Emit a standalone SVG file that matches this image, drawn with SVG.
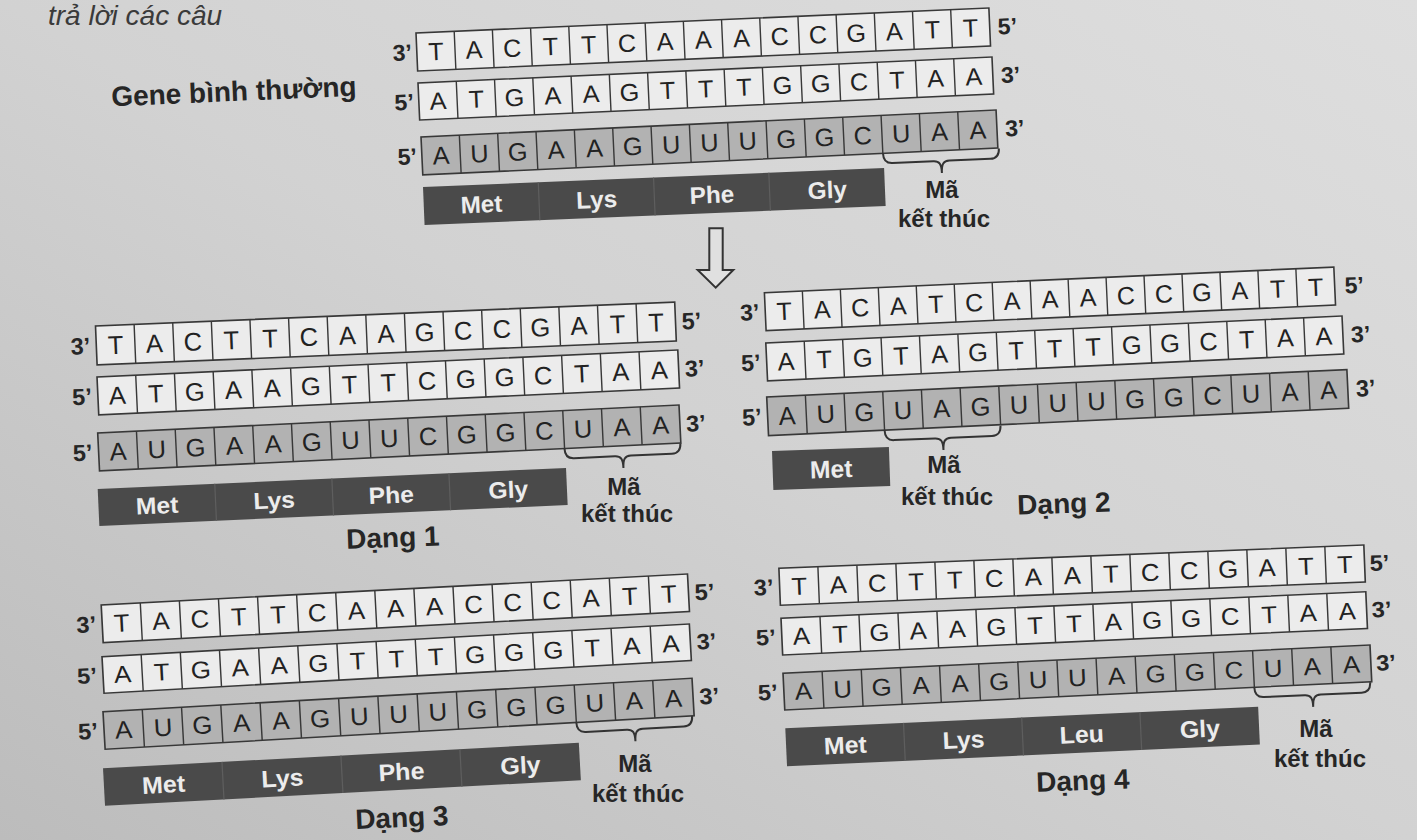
<svg xmlns="http://www.w3.org/2000/svg" xmlns:xlink="http://www.w3.org/1999/xlink" width="1417" height="840" viewBox="0 0 1417 840">
<defs>
<linearGradient id="bg" x1="1" y1="0" x2="0" y2="1">
<stop offset="0" stop-color="#dedede"/>
<stop offset="0.5" stop-color="#d2d2d2"/>
<stop offset="1" stop-color="#bcbcbc"/>
</linearGradient>
<style>
.dna{fill:#ececec;stroke:#383838;stroke-width:1.6}
.rna{fill:#b2b2b2;stroke:#383838;stroke-width:1.6}
.div{fill:none;stroke:#383838;stroke-width:1.4}
.nt{font-family:"Liberation Sans",Arial,sans-serif;font-size:25px;fill:#222222;text-anchor:middle}
.end{font-family:"Liberation Sans",Arial,sans-serif;font-size:23px;font-weight:bold;fill:#262626}
.bar{fill:#4a4a4a}
.sep{fill:none;stroke:#5e5e5e;stroke-width:1.2}
.aa{font-family:"Liberation Sans",Arial,sans-serif;font-size:24px;font-weight:bold;fill:#ececec;text-anchor:middle}
.lbl{font-family:"Liberation Sans",Arial,sans-serif;font-size:24px;font-weight:bold;fill:#262626;text-anchor:middle}
.title{font-family:"Liberation Sans",Arial,sans-serif;font-size:28px;font-weight:bold;fill:#262626;text-anchor:middle}
.brace{fill:none;stroke:#333333;stroke-width:2}
.arrow{fill:#e0e0e0;stroke:#333333;stroke-width:2;stroke-linejoin:miter}
.page{font-family:"Liberation Sans",Arial,sans-serif;font-size:28px;font-style:italic;fill:#3a3a3a}
</style>
<path id="d15" class="div" d="M38,0V38M76,0V38M114,0V38M152,0V38M190,0V38M228,0V38M266,0V38M304,0V38M342,0V38M380,0V38M418,0V38M456,0V38M494,0V38M532,0V38"/>
<path id="sep4" class="sep" d="M114,0V38M228,0V38M342,0V38"/>
<path id="brace" class="brace" d="M0,0 C0,6 3,10 9,10 H50 C56,10 58,13 58,22 C58,13 60,10 66,10 H107 C113,10 116,6 116,0"/>
</defs>

<rect width="1417" height="840" fill="url(#bg)"/>
<text class="page" x="48" y="25">trả lời các câu</text>

<!-- Normal gene -->
<g id="gene-normal">
<text class="title" x="234" y="101" transform="rotate(-2.5 234 95)">Gene bình thường</text>
<g transform="translate(416,33) rotate(-2.5) scale(1.006,1)">
<rect class="dna" width="570" height="38"/><use xlink:href="#d15"/>
<text class="nt" x="19 57 95 133 171 209 247 285 323 361 399 437 475 513 551" y="28">TACTTCAAACCGATT</text>
<text class="end" x="-5" y="27" text-anchor="end">3’</text><text class="end" x="578" y="27">5’</text>
</g>
<g transform="translate(418,83) rotate(-2.59) scale(1.008,0.975)">
<rect class="dna" width="570" height="38"/><use xlink:href="#d15"/>
<text class="nt" x="19 57 95 133 171 209 247 285 323 361 399 437 475 513 551" y="28">ATGAAGTTTGGCTAA</text>
<text class="end" x="-5" y="27" text-anchor="end">5’</text><text class="end" x="578" y="27">3’</text>
</g>
<g transform="translate(421,137) rotate(-2.69) scale(1.010,1)">
<rect class="rna" width="570" height="38"/><use xlink:href="#d15"/>
<text class="nt" x="19 57 95 133 171 209 247 285 323 361 399 437 475 513 551" y="28">AUGAAGUUUGGCUAA</text>
<text class="end" x="-5" y="27" text-anchor="end">5’</text><text class="end" x="578" y="27">3’</text>
</g>
<g transform="translate(423,187) rotate(-2.36) scale(1.012,1)">
<rect class="bar" width="456" height="38"/><use xlink:href="#sep4"/>
<text class="aa" x="57" y="28">Met</text><text class="aa" x="171" y="28">Lys</text><text class="aa" x="285" y="28">Phe</text><text class="aa" x="399" y="28">Gly</text>
</g>
<use xlink:href="#brace" transform="translate(883,153.5) rotate(-2.5)"/>
<text class="lbl" x="942" y="198">Mã</text>
<text class="lbl" x="944" y="227">kết thúc</text>
</g>

<!-- Dang 1 -->
<g id="dang-1">
<g transform="translate(95.5,326) rotate(-2.37) scale(1.017,1.026)">
<rect class="dna" width="570" height="38"/><use xlink:href="#d15"/>
<text class="nt" x="19 57 95 133 171 209 247 285 323 361 399 437 475 513 551" y="28">TACTTCAAGCCGATT</text>
<text class="end" x="-6" y="27" text-anchor="end">3’</text><text class="end" x="576" y="27">5’</text>
</g>
<g transform="translate(97,377) rotate(-2.66) scale(1.020,1)">
<rect class="dna" width="570" height="38"/><use xlink:href="#d15"/>
<text class="nt" x="19 57 95 133 171 209 247 285 323 361 399 437 475 513 551" y="28">ATGAAGTTCGGCTAA</text>
<text class="end" x="-6" y="27" text-anchor="end">5’</text><text class="end" x="576" y="27">3’</text>
</g>
<g transform="translate(97.7,433) rotate(-2.76) scale(1.021,1)">
<rect class="rna" width="570" height="38"/><use xlink:href="#d15"/>
<text class="nt" x="19 57 95 133 171 209 247 285 323 361 399 437 475 513 551" y="28">AUGAAGUUCGGCUAA</text>
<text class="end" x="-6" y="27" text-anchor="end">5’</text><text class="end" x="576" y="27">3’</text>
</g>
<g transform="translate(97.7,489) rotate(-2.57) scale(1.028,0.974)">
<rect class="bar" width="456" height="38"/><use xlink:href="#sep4"/>
<text class="aa" x="57" y="28">Met</text><text class="aa" x="171" y="28">Lys</text><text class="aa" x="285" y="28">Phe</text><text class="aa" x="399" y="28">Gly</text>
</g>
<use xlink:href="#brace" transform="translate(564.5,448.6) rotate(-2.6)"/>
<text class="lbl" x="624" y="495">Mã</text>
<text class="lbl" x="627" y="522">kết thúc</text>
<text class="title" x="393" y="547" transform="rotate(-2 393 540)">Dạng 1</text>
</g>

<!-- Dang 2 -->
<g id="dang-2">
<g transform="translate(764.4,292.7) rotate(-2.58) scale(1.0,1)">
<rect class="dna" width="570" height="38"/><use xlink:href="#d15"/>
<text class="nt" x="19 57 95 133 171 209 247 285 323 361 399 437 475 513 551" y="28">TACATCAAACCGATT</text>
<text class="end" x="-6" y="27" text-anchor="end">3’</text><text class="end" x="580" y="27">5’</text>
</g>
<g transform="translate(765.8,343) rotate(-2.68) scale(1.012,1)">
<rect class="dna" width="570" height="38"/><use xlink:href="#d15"/>
<text class="nt" x="19 57 95 133 171 209 247 285 323 361 399 437 475 513 551" y="28">ATGTAGTTTGGCTAA</text>
<text class="end" x="-6" y="27" text-anchor="end">5’</text><text class="end" x="578" y="27">3’</text>
</g>
<g transform="translate(766.7,397) rotate(-2.71) scale(1.019,1.02)">
<rect class="rna" width="570" height="38"/><use xlink:href="#d15"/>
<text class="nt" x="19 57 95 133 171 209 247 285 323 361 399 437 475 513 551" y="28">AUGUAGUUUGGCUAA</text>
<text class="end" x="-6" y="27" text-anchor="end">5’</text><text class="end" x="578" y="27">3’</text>
</g>
<g transform="translate(772,451) rotate(-2) scale(1.026,1.03)">
<rect class="bar" width="114" height="38"/>
<text class="aa" x="57" y="28">Met</text>
</g>
<use xlink:href="#brace" transform="translate(884.6,430.5) rotate(-2.4)"/>
<text class="lbl" x="944" y="473">Mã</text>
<text class="lbl" x="947" y="505">kết thúc</text>
<text class="title" x="1064" y="513" transform="rotate(-2 1064 505)">Dạng 2</text>
</g>

<!-- Dang 3 -->
<g id="dang-3">
<g transform="translate(101.2,605) rotate(-3.03) scale(1.030,0.99)">
<rect class="dna" width="570" height="38"/><use xlink:href="#d15"/>
<text class="nt" x="19 57 95 133 171 209 247 285 323 361 399 437 475 513 551" y="28">TACTTCAAACCCATT</text>
<text class="end" x="-6" y="27" text-anchor="end">3’</text><text class="end" x="576" y="27">5’</text>
</g>
<g transform="translate(102,656.7) rotate(-3.19) scale(1.032,0.963)">
<rect class="dna" width="570" height="38"/><use xlink:href="#d15"/>
<text class="nt" x="19 57 95 133 171 209 247 285 323 361 399 437 475 513 551" y="28">ATGAAGTTTGGGTAA</text>
<text class="end" x="-6" y="27" text-anchor="end">5’</text><text class="end" x="576" y="27">3’</text>
</g>
<g transform="translate(103,711.7) rotate(-3.25) scale(1.035,0.99)">
<rect class="rna" width="570" height="38"/><use xlink:href="#d15"/>
<text class="nt" x="19 57 95 133 171 209 247 285 323 361 399 437 475 513 551" y="28">AUGAAGUUUGGGUAA</text>
<text class="end" x="-6" y="27" text-anchor="end">5’</text><text class="end" x="576" y="27">3’</text>
</g>
<g transform="translate(103,768.3) rotate(-3.08) scale(1.045,0.99)">
<rect class="bar" width="456" height="38"/><use xlink:href="#sep4"/>
<text class="aa" x="57" y="28">Met</text><text class="aa" x="171" y="28">Lys</text><text class="aa" x="285" y="28">Phe</text><text class="aa" x="399" y="28">Gly</text>
</g>
<use xlink:href="#brace" transform="translate(576.3,722.5) rotate(-3.2)"/>
<text class="lbl" x="635" y="772">Mã</text>
<text class="lbl" x="638" y="802">kết thúc</text>
<text class="title" x="402" y="827" transform="rotate(-2.5 402 820)">Dạng 3</text>
</g>

<!-- Dang 4 -->
<g id="dang-4">
<g transform="translate(778.9,568.3) rotate(-2.28) scale(1.027,0.974)">
<rect class="dna" width="570" height="38"/><use xlink:href="#d15"/>
<text class="nt" x="19 57 95 133 171 209 247 285 323 361 399 437 475 513 551" y="28">TACTTCAATCCGATT</text>
<text class="end" x="-6" y="27" text-anchor="end">3’</text><text class="end" x="575" y="27">5’</text>
</g>
<g transform="translate(781,618.3) rotate(-2.60) scale(1.027,0.966)">
<rect class="dna" width="570" height="38"/><use xlink:href="#d15"/>
<text class="nt" x="19 57 95 133 171 209 247 285 323 361 399 437 475 513 551" y="28">ATGAAGTTAGGCTAA</text>
<text class="end" x="-6" y="27" text-anchor="end">5’</text><text class="end" x="575" y="27">3’</text>
</g>
<g transform="translate(783,673.3) rotate(-2.76) scale(1.031,0.966)">
<rect class="rna" width="570" height="38"/><use xlink:href="#d15"/>
<text class="nt" x="19 57 95 133 171 209 247 285 323 361 399 437 475 513 551" y="28">AUGAAGUUAGGCUAA</text>
<text class="end" x="-6" y="27" text-anchor="end">5’</text><text class="end" x="575" y="27">3’</text>
</g>
<g transform="translate(785.3,728.3) rotate(-2.62) scale(1.038,1)">
<rect class="bar" width="456" height="38"/><use xlink:href="#sep4"/>
<text class="aa" x="57" y="28">Met</text><text class="aa" x="171" y="28">Lys</text><text class="aa" x="285" y="28">Leu</text><text class="aa" x="399" y="28">Gly</text>
</g>
<use xlink:href="#brace" transform="translate(1254.3,687.5) rotate(-2.6)"/>
<text class="lbl" x="1316" y="737">Mã</text>
<text class="lbl" x="1320" y="767">kết thúc</text>
<text class="title" x="1083" y="790" transform="rotate(-2 1083 783)">Dạng 4</text>
</g>

<g id="connectors">
<path class="arrow" d="M709.3,228.3 H722.7 V270 H733.3 L715.7,287.7 L697.7,270 H709.3 Z"/>
</g>
</svg>
